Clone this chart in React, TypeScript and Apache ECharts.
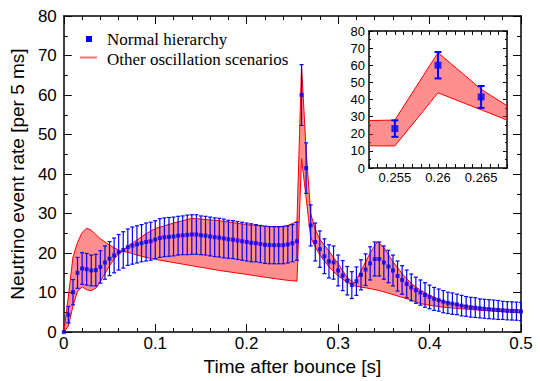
import React, { useEffect, useRef } from 'react';
import * as echarts from 'echarts';

// Time after bounce [s], 5 ms bins
const times: number[] = Array.from({ length: 101 }, (_, i) => Math.round(i * 5) / 1000);

// Normal hierarchy event rate per 5 ms bin
const rate: number[] = [
  0, 4.4, 10.1, 15, 16.1, 15.9, 15.6, 15.7, 16.5, 17.6,
  18.6, 19.4, 20.2, 20.8, 21.5, 21.9, 22.2, 22.5, 22.8, 23.0,
  23.4, 23.8, 24.0, 24.1, 24.2, 24.4, 24.5, 24.6, 24.7, 24.7,
  24.5, 24.4, 24.2, 24.0, 23.9, 23.7, 23.5, 23.4, 23.2, 23.0,
  22.8, 22.6, 22.5, 22.3, 22.1, 22.0, 22.0, 22.0, 22.0, 22.2,
  22.5, 23.0, 60, 41.5, 27, 22.8, 21, 19.2, 17.9, 17.6,
  15.6, 14.3, 13.0, 11.9, 12.9, 14.5, 15.8, 17.4, 18.5, 18.5,
  17.6, 16.6, 15.6, 14.2, 13.2, 12.2, 11.3, 10.6, 10.0, 9.4,
  8.9, 8.4, 8.1, 7.7, 7.4, 7.2, 7.0, 6.7, 6.5, 6.3,
  6.2, 6.0, 5.9, 5.8, 5.7, 5.6, 5.5, 5.4, 5.35, 5.3,
  5.2,
];

// Error bar half-heights
const rateErr: number[] = [
  0, 2.1, 3.2, 3.9, 4.0, 4.0, 3.9, 4.0, 4.1, 4.2,
  4.3, 4.4, 4.5, 4.6, 4.6, 4.7, 4.7, 4.7, 4.8, 4.8,
  4.8, 4.9, 4.9, 4.9, 4.9, 4.9, 4.9, 5.0, 5.0, 5.0,
  4.9, 4.9, 4.9, 4.9, 4.9, 4.9, 4.8, 4.8, 4.8, 4.8,
  4.8, 4.8, 4.7, 4.7, 4.7, 4.7, 4.7, 4.7, 4.7, 4.7,
  4.7, 4.8, 7.7, 6.4, 5.2, 4.8, 4.6, 4.4, 4.2, 4.2,
  3.9, 3.8, 3.6, 3.4, 3.6, 3.8, 4.0, 4.2, 4.3, 4.3,
  4.2, 4.1, 3.9, 3.8, 3.6, 3.5, 3.4, 3.3, 3.2, 3.1,
  3.0, 2.9, 2.8, 2.8, 2.7, 2.7, 2.6, 2.6, 2.5, 2.5,
  2.5, 2.4, 2.4, 2.4, 2.4, 2.4, 2.3, 2.3, 2.3, 2.3,
  2.3,
];

// Envelope of the other oscillation scenarios
const bandT: number[] = [
  0, 0.005, 0.01, 0.015, 0.02, 0.025, 0.03, 0.035, 0.04, 0.045,
  0.05, 0.055, 0.06, 0.064, 0.07, 0.08, 0.09, 0.1, 0.12, 0.14,
  0.15, 0.17, 0.2, 0.22, 0.235, 0.245, 0.25, 0.255, 0.26, 0.265,
  0.27, 0.275, 0.28, 0.29, 0.3, 0.31, 0.318, 0.325, 0.335, 0.343,
  0.35, 0.36, 0.37, 0.38, 0.39, 0.4, 0.415, 0.435, 0.47, 0.5,
];
const bandHigh: number[] = [
  0, 9, 19, 22.7, 25.2, 26.3, 25.8, 24.7, 23.6, 22.8,
  22, 21.4, 20.7, 20.4, 21.8, 23.3, 24.9, 26.2, 27.6, 28.8,
  28.6, 28.2, 27.2, 26.8, 26.6, 27.0, 27.5, 28, 67.4, 46,
  30, 26, 23.5, 20.5, 17.3, 13.8, 12.3, 15.5, 20, 22.9,
  21.5, 17.8, 14.8, 12.3, 10.6, 9.3, 7.8, 6.7, 5.9, 5.6,
];
const bandLow: number[] = [
  0, 1.5, 6.6, 10.3, 11.5, 10.7, 10.5, 11.1, 12.8, 14.8,
  16.8, 18.5, 19.8, 20.4, 20.2, 19.5, 18.9, 18.4, 17.6, 16.8,
  16.4, 15.6, 14.6, 13.9, 13.4, 13.1, 13.0, 12.9, 43.9, 34,
  24, 21.5, 19.5, 16.5, 14.2, 12.6, 11.7, 11.4, 11.0, 10.6,
  10.2, 9.5, 8.8, 8.1, 7.2, 6.8, 6.3, 5.9, 5.3, 4.9,
];

const legendLabels = ['Normal hierarchy', 'Other oscillation scenarios'];
const xName = 'Time after bounce [s]';
const yName = 'Neutrino event rate [per 5 ms]';

const SANS = '"Liberation Sans", Arial, Helvetica, sans-serif';
const SERIF = '"Liberation Serif", "Times New Roman", Times, serif';
const BLUE = '#0000ff';
const RED = '#ff0000';

const bandRender = (_p: any, api: any) => {
  const up = bandT.map((t, i) => api.coord([t, bandHigh[i]]));
  const lo = bandT.map((t, i) => api.coord([t, bandLow[i]]));
  return {
    type: 'group',
    children: [
      { type: 'polygon', shape: { points: up.concat(lo.slice().reverse()) }, style: { fill: 'rgba(255,30,30,0.5)', stroke: 'none' } },
      { type: 'polyline', shape: { points: up }, style: { stroke: RED, lineWidth: 1, fill: 'none' } },
      { type: 'polyline', shape: { points: lo }, style: { stroke: RED, lineWidth: 1, fill: 'none' } },
    ],
  };
};

const errRender = (cap: number, lw: number) => (_p: any, api: any) => {
  const t = api.value(0);
  const v = api.value(1);
  const e = api.value(2);
  const top = api.coord([t, v + e]);
  const bot = api.coord([t, v - e]);
  const st = { stroke: BLUE, lineWidth: lw };
  return {
    type: 'group',
    children: [
      { type: 'line', shape: { x1: top[0], y1: top[1], x2: bot[0], y2: bot[1] }, style: st },
      { type: 'line', shape: { x1: top[0] - cap, y1: top[1], x2: top[0] + cap, y2: top[1] }, style: st },
      { type: 'line', shape: { x1: bot[0] - cap, y1: bot[1], x2: bot[0] + cap, y2: bot[1] }, style: st },
    ],
  };
};

const axisCommon = (len: number, lw: number) => ({
  axisLine: { show: true, onZero: false, lineStyle: { color: '#000', width: lw } },
  axisTick: { show: true, inside: true, length: len, lineStyle: { color: '#000', width: 1 } },
  splitLine: { show: false },
  minorSplitLine: { show: false },
});

export default function App() {
  const ref = useRef<HTMLDivElement>(null);
  useEffect(() => {
    if (!ref.current) return;
    const chart = echarts.init(ref.current, undefined, { renderer: 'svg' });
    const pts = times.map((t, i) => [t, rate[i], rateErr[i]]);
    const marks = times.map((t, i) => [t, rate[i]]);

    const option: any = {
      animation: false,
      backgroundColor: '#fff',
      grid: [
        { left: 61, right: 19, top: 16, bottom: 41, show: false },
        { left: 369, right: 33, top: 31, bottom: 213, show: true, backgroundColor: '#fff', borderWidth: 0 },
      ],
      xAxis: [
        {
          type: 'value', gridIndex: 0, position: 'bottom', min: 0, max: 0.5, interval: 0.1,
          ...axisCommon(8, 1.5),
          minorTick: { show: true, splitNumber: 5, length: 4, lineStyle: { color: '#000', width: 1 } },
          axisLabel: { show: true, color: '#000', fontFamily: SANS, fontSize: 17, margin: 3 },
          name: xName, nameLocation: 'middle', nameGap: 19,
          nameTextStyle: { color: '#000', fontFamily: SANS, fontSize: 19 },
        },
        {
          type: 'value', gridIndex: 0, position: 'top', min: 0, max: 0.5, interval: 0.1,
          ...axisCommon(8, 1.5),
          minorTick: { show: true, splitNumber: 5, length: 4, lineStyle: { color: '#000', width: 1 } },
          axisLabel: { show: false },
        },
        {
          type: 'value', gridIndex: 1, position: 'bottom', min: 0.252, max: 0.268, interval: 0.001,
          ...axisCommon(4, 1.5),
          axisLabel: {
            show: true, color: '#000', fontFamily: SANS, fontSize: 13, margin: 3,
            formatter: (v: number) => (Math.round(v * 1000) % 5 === 0 ? String(Number(v.toFixed(3))) : ''),
          },
        },
        {
          type: 'value', gridIndex: 1, position: 'top', min: 0.252, max: 0.268, interval: 0.001,
          ...axisCommon(4, 1.5),
          axisLabel: { show: false },
        },
      ],
      yAxis: [
        {
          type: 'value', gridIndex: 0, position: 'left', min: 0, max: 80, interval: 10,
          ...axisCommon(8, 1.5),
          minorTick: { show: true, splitNumber: 2, length: 4, lineStyle: { color: '#000', width: 1 } },
          axisLabel: { show: true, color: '#000', fontFamily: SANS, fontSize: 17, margin: 7 },
          name: yName, nameLocation: 'middle', nameGap: 29,
          nameTextStyle: { color: '#000', fontFamily: SANS, fontSize: 19 },
        },
        {
          type: 'value', gridIndex: 0, position: 'right', min: 0, max: 80, interval: 10,
          ...axisCommon(8, 1.5),
          minorTick: { show: true, splitNumber: 2, length: 4, lineStyle: { color: '#000', width: 1 } },
          axisLabel: { show: false },
        },
        {
          type: 'value', gridIndex: 1, position: 'left', min: 0, max: 80, interval: 10,
          ...axisCommon(4, 1.5),
          minorTick: { show: true, splitNumber: 2, length: 2, lineStyle: { color: '#000', width: 1 } },
          axisLabel: { show: true, color: '#000', fontFamily: SANS, fontSize: 13, margin: 4 },
        },
        {
          type: 'value', gridIndex: 1, position: 'right', min: 0, max: 80, interval: 10,
          ...axisCommon(4, 1.5),
          minorTick: { show: true, splitNumber: 2, length: 2, lineStyle: { color: '#000', width: 1 } },
          axisLabel: { show: false },
        },
      ],
      series: [
        { type: 'custom', name: legendLabels[1], xAxisIndex: 0, yAxisIndex: 0, data: [[0.25, 20]], renderItem: bandRender, clip: true, z: 2, silent: true },
        { type: 'custom', xAxisIndex: 0, yAxisIndex: 0, data: pts, renderItem: errRender(2, 1.2), clip: true, z: 3, silent: true },
        { type: 'scatter', name: legendLabels[0], xAxisIndex: 0, yAxisIndex: 0, data: marks, symbol: 'rect', symbolSize: 4, itemStyle: { color: BLUE }, clip: true, z: 4, silent: true },
        { type: 'custom', xAxisIndex: 2, yAxisIndex: 2, data: [[0.26, 40]], renderItem: bandRender, clip: true, z: 2, silent: true },
        { type: 'custom', xAxisIndex: 2, yAxisIndex: 2, data: pts, renderItem: errRender(3.5, 2), clip: true, z: 3, silent: true },
        { type: 'scatter', xAxisIndex: 2, yAxisIndex: 2, data: marks, symbol: 'rect', symbolSize: 7, itemStyle: { color: BLUE }, clip: true, z: 4, silent: true },
      ],
      graphic: [
        { type: 'rect', shape: { x: 86, y: 36, width: 6, height: 6 }, style: { fill: BLUE }, z: 10 },
        { type: 'text', x: 107, y: 39, style: { text: legendLabels[0], fontFamily: SERIF, fontSize: 17, fill: '#000', verticalAlign: 'middle' }, z: 10 },
        { type: 'line', shape: { x1: 80, y1: 57.5, x2: 97, y2: 57.5 }, style: { stroke: '#ff7070', lineWidth: 2 }, z: 10 },
        { type: 'text', x: 107, y: 59, style: { text: legendLabels[1], fontFamily: SERIF, fontSize: 17, fill: '#000', verticalAlign: 'middle' }, z: 10 },
      ],
    };
    chart.setOption(option);
    return () => chart.dispose();
  }, []);
  return <div ref={ref} style={{ position: 'fixed', left: 0, top: 0, width: 540, height: 381 }} />;
}
